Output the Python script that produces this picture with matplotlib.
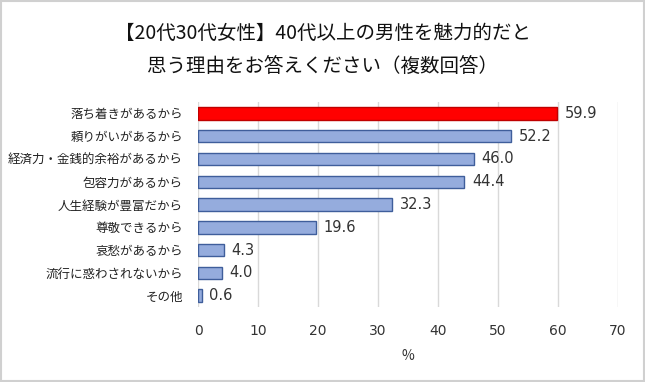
import matplotlib
matplotlib.use("Agg")
import matplotlib.pyplot as plt

plt.rcParams['font.family'] = ['Noto Sans CJK JP', 'DejaVu Sans']

# Data
categories = ["落ち着きがあるから", "頼りがいがあるから", "経済力・金銭的余裕があるから",
              "包容力があるから", "人生経験が豊富だから", "尊敬できるから",
              "哀愁があるから", "流行に惑わされないから", "その他"]
values = [59.9, 52.2, 46.0, 44.4, 32.3, 19.6, 4.3, 4.0, 0.6]
title = "【20代30代女性】40代以上の男性を魅力的だと\n思う理由をお答えください（複数回答）"

fig = plt.figure(figsize=(6.45, 3.82), dpi=100)
ax = fig.add_axes([0.307, 0.196, 0.651, 0.537])

face = ["#FF0000"] + ["#95ACDD"] * (len(values) - 1)
edge = ["#C00000"] + ["#3F5E9B"] * (len(values) - 1)
ypos = list(range(len(values)))
ax.barh(ypos, values, height=0.55, color=face, edgecolor=edge, linewidth=1.0, zorder=3)

for y, v in zip(ypos, values):
    ax.text(v + 1.3, y, f"{v:.1f}", va="center", ha="left", fontsize=10.5,
            family="DejaVu Sans", color="#333333")

ax.set_yticks(ypos)
ax.set_yticklabels(categories, fontsize=9)
ax.set_ylim(len(values) - 0.5, -0.5)
ax.set_xlim(0, 70)
ax.set_xticks(range(0, 71, 10))
ax.tick_params(axis="x", labelsize=10, length=0, pad=12, colors="#333333")
ax.tick_params(axis="y", length=0, pad=11, colors="#222222")
for lbl in ax.get_xticklabels():
    lbl.set_family("DejaVu Sans")
ax.set_xlabel("%", fontsize=10, labelpad=8, color="#333333")
ax.grid(axis="x", color="#D9D9D9", linewidth=1.0, zorder=0)
for s in ax.spines.values():
    s.set_visible(False)

fig.text(0.5, 0.87, title, ha="center", va="center", fontsize=14,
         linespacing=1.75, color="#111111")

# thin grey frame around the figure
fig.patches.append(plt.Rectangle((0.002, 0.003), 0.996, 0.994, transform=fig.transFigure,
                                 fill=False, edgecolor="#D0D0D0", linewidth=1.5))

fig.savefig("out.png", dpi=100)
